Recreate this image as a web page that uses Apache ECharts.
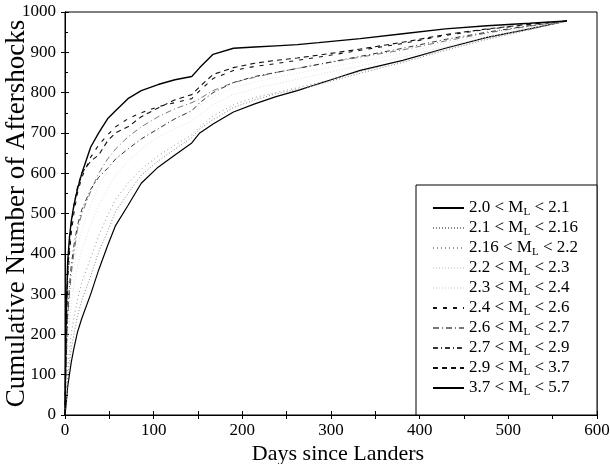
<!DOCTYPE html>
<html>
<head>
<meta charset="utf-8">
<script src="https://cdn.jsdelivr.net/npm/echarts@6/dist/echarts.min.js"></script>
<style>
html,body{margin:0;padding:0;background:#fff;}
#main{width:610px;height:464px;}
</style>
</head>
<body>
<div id="main"></div>
<script>
// days since Landers (shared sampling for every curve)
var days = [0,1,2,3,5,7,10,14,19,29,38,48,57,71,86,105,124,143,152,167,190,214,238,262,286,333,381,429,476,524,566];

var names = ['2.0 < M_L < 2.1','2.1 < M_L < 2.16','2.16 < M_L < 2.2','2.2 < M_L < 2.3','2.3 < M_L < 2.4',
             '2.4 < M_L < 2.6','2.6 < M_L < 2.7','2.7 < M_L < 2.9','2.9 < M_L < 3.7','3.7 < M_L < 5.7'];

var m20 = [0,20,45,70,100,130,165,205,240,300,360,420,470,520,575,615,645,675,700,722,752,772,790,805,822,855,880,910,937,958,978];
var m21 = [0,30,60,90,130,165,200,245,285,345,405,455,505,550,595,630,660,688,710,733,763,782,797,808,820,848,875,905,932,956,978];
var m216 = [0,40,80,115,160,200,240,285,330,390,445,495,535,575,610,643,670,695,715,742,770,788,800,812,825,852,878,908,935,958,978];
var m22 = [0,60,120,170,230,275,320,370,410,470,520,560,595,630,660,690,710,730,745,770,795,810,822,833,845,866,888,914,938,960,978];
var m23 = [0,80,150,210,270,320,365,420,460,520,570,605,635,665,690,715,735,755,768,790,812,826,838,848,858,877,898,922,944,963,978];
var m24 = [0,150,260,330,400,450,500,550,590,640,670,695,715,735,750,765,775,785,805,835,855,865,872,880,888,905,922,942,957,969,978];
var m26 = [0,90,170,240,300,350,400,460,500,555,600,635,660,690,715,740,760,775,785,805,825,838,850,860,870,888,906,928,948,965,978];
var m27 = [0,110,190,250,320,370,420,470,510,560,590,612,635,660,685,710,735,755,775,800,825,840,850,860,870,890,910,932,950,966,978];
var m29 = [0,170,280,350,420,470,520,565,600,630,645,680,700,715,740,762,782,795,815,845,862,873,880,886,893,908,925,944,958,970,978];
var m37 = [0,200,300,380,440,480,520,560,600,665,700,735,755,785,805,820,832,840,862,895,910,913,916,919,924,934,946,958,966,972,978];

var values = [m20,m21,m216,m22,m23,m24,m26,m27,m29,m37];

var styles = [
    {color:'#000', width:1.2, type:'solid'},
    {color:'#888', width:1, type:[1,2]},
    {color:'#999', width:1, type:[1,3]},
    {color:'#ddd', width:1, type:[1,2]},
    {color:'#e4e4e4', width:1, type:[1,2]},
    {color:'#111', width:1.1, type:[4,6]},
    {color:'#777', width:1, type:[6,3,1,3]},
    {color:'#333', width:1, type:[5,3,1,3]},
    {color:'#111', width:1.1, type:[5,4]},
    {color:'#000', width:1.4, type:'solid'}
];

var serif = 'Liberation Serif';

var series = names.map(function(n, i){
    return {
        name: n,
        type: 'line',
        symbol: 'none',
        data: days.map(function(d, j){ return [d, values[i][j]]; }),
        lineStyle: styles[i],
        itemStyle: {color: styles[i].color},
        z: 2
    };
});

var chart = echarts.init(document.getElementById('main'));
var option = {
    animation: false,
    backgroundColor: '#fff',
    grid: {left: 65, right: 13, top: 12, bottom: 49, show: true, borderColor: '#000', borderWidth: 1,
           containLabel: false, outerBoundsMode: 'none'},
    graphic: [{
        type: 'rect',
        shape: {x: 416, y: 185, width: 181, height: 230},
        style: {fill: '#fff', stroke: '#000', lineWidth: 1},
        z: 50
    }],
    legend: {
        orient: 'vertical',
        left: 427,
        top: 193,
        itemWidth: 31,
        itemHeight: 10,
        itemGap: 0,
        z: 60,
        itemStyle: {opacity: 0},
        data: names,
        formatter: function(n){ return n.replace('M_L', 'M{s|L}'); },
        textStyle: {
            fontFamily: serif, fontSize: 17, color: '#000', lineHeight: 20,
            rich: {s: {fontFamily: serif, fontSize: 11, lineHeight: 8, verticalAlign: 'bottom', color: '#000'}}
        }
    },
    xAxis: [{
        type: 'value', min: 0, max: 600, interval: 100,
        name: 'Days since Landers', nameLocation: 'middle', nameGap: 28, nameMoveOverlap: false,
        nameTextStyle: {fontFamily: serif, fontSize: 22, color: '#000', padding: [0, 0, 0, 14]},
        axisLine: {lineStyle: {color: '#000'}},
        axisTick: {inside: true, length: 4, lineStyle: {color: '#000'}},
        minorTick: {show: true, splitNumber: 2, length: 4, lineStyle: {color: '#000'}},
        axisLabel: {fontFamily: serif, fontSize: 17, color: '#000', margin: 7},
        splitLine: {show: false}
    }, {
        type: 'value', min: 0, max: 600, interval: 100, position: 'top',
        axisLine: {lineStyle: {color: '#000'}},
        axisTick: {inside: true, length: 4, lineStyle: {color: '#000'}},
        minorTick: {show: true, splitNumber: 2, length: 4, lineStyle: {color: '#000'}},
        axisLabel: {show: false},
        splitLine: {show: false}
    }],
    yAxis: [{
        type: 'value', min: 0, max: 1000, interval: 100,
        name: 'Cumulative Number of Aftershocks', nameLocation: 'middle', nameGap: 35, nameMoveOverlap: false,
        nameTextStyle: {fontFamily: serif, fontSize: 27, color: '#000'},
        axisLine: {show: true, lineStyle: {color: '#000'}},
        axisTick: {show: true, inside: true, length: 4, lineStyle: {color: '#000'}},
        minorTick: {show: true, splitNumber: 2, length: 3, lineStyle: {color: '#000'}},
        axisLabel: {fontFamily: serif, fontSize: 17, color: '#000', margin: 9, formatter: function(v){ return String(v); }},
        splitLine: {show: false}
    }, {
        type: 'value', min: 0, max: 1000, interval: 100, position: 'right',
        axisLine: {show: true, lineStyle: {color: '#000'}},
        axisTick: {show: true, inside: true, length: 4, lineStyle: {color: '#000'}},
        axisLabel: {show: false},
        splitLine: {show: false}
    }],
    series: series
};
chart.setOption(option);
</script>
</body>
</html>
